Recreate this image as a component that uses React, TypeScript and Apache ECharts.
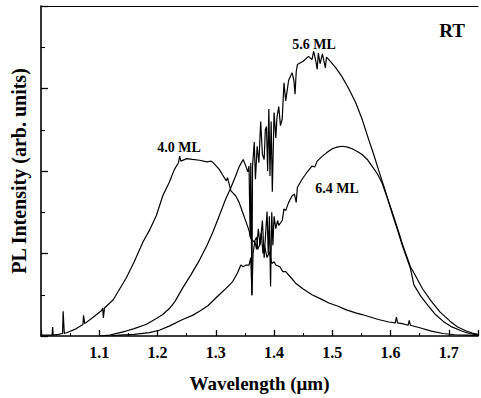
import React, { useEffect, useRef } from "react";
import * as echarts from "echarts";

// Wavelength (µm), PL intensity (arb. units)
const ml40: [number, number][] = [
  [1.0, 0.01], [1.015, 0.01], [1.019, 0.01], [1.02, 0.11], [1.021, 0.01], [1.03, 0.02],
  [1.037, 0.03], [1.038, 0.3], [1.04, 0.03], [1.044, 0.04], [1.058, 0.08], [1.072, 0.14],
  [1.073, 0.25], [1.075, 0.15], [1.09, 0.23], [1.104, 0.31], [1.106, 0.34], [1.107, 0.22],
  [1.109, 0.34], [1.124, 0.44], [1.146, 0.7], [1.16, 0.9], [1.175, 1.14], [1.186, 1.28],
  [1.198, 1.46], [1.209, 1.7], [1.22, 1.86], [1.229, 2.02], [1.236, 2.1], [1.238, 2.18],
  [1.24, 2.12], [1.25, 2.15], [1.26, 2.14], [1.272, 2.13], [1.285, 2.11], [1.292, 2.12],
  [1.297, 2.09], [1.306, 2.02], [1.311, 1.96], [1.318, 1.88], [1.32, 1.92], [1.326, 1.76],
  [1.334, 1.7], [1.34, 1.62], [1.346, 1.5], [1.352, 1.38], [1.357, 1.28], [1.36, 1.18],
  [1.366, 1.14], [1.37, 1.2], [1.372, 1.05], [1.375, 1.1], [1.378, 1.25], [1.381, 1.0],
  [1.384, 1.08], [1.388, 0.95], [1.392, 1.02], [1.396, 0.88], [1.4, 0.9], [1.403, 0.86],
  [1.41, 0.84], [1.415, 0.78], [1.42, 0.78], [1.43, 0.7], [1.437, 0.64], [1.45, 0.57],
  [1.465, 0.5], [1.48, 0.45], [1.494, 0.4], [1.51, 0.36], [1.523, 0.32], [1.54, 0.28],
  [1.551, 0.26], [1.565, 0.23], [1.579, 0.2], [1.597, 0.17], [1.608, 0.16], [1.61, 0.23],
  [1.612, 0.16], [1.62, 0.15], [1.63, 0.13], [1.632, 0.19], [1.634, 0.13], [1.65, 0.1],
  [1.67, 0.06], [1.69, 0.03], [1.71, 0.015], [1.73, 0.01], [1.75, 0.005],
];

const ml56: [number, number][] = [
  [1.1, 0.0], [1.118, 0.01], [1.146, 0.06], [1.16, 0.09], [1.18, 0.14], [1.19, 0.18],
  [1.2, 0.22], [1.209, 0.26], [1.215, 0.3], [1.22, 0.33], [1.23, 0.42], [1.243, 0.58],
  [1.258, 0.75], [1.272, 0.92], [1.285, 1.1], [1.295, 1.26], [1.305, 1.44], [1.317, 1.66],
  [1.326, 1.8], [1.334, 1.94], [1.34, 2.05], [1.347, 2.14], [1.352, 2.05], [1.355, 1.99],
  [1.357, 2.06], [1.359, 1.2], [1.36, 2.1], [1.362, 0.49], [1.363, 2.05], [1.366, 2.35],
  [1.368, 1.9], [1.371, 2.3], [1.374, 2.1], [1.377, 2.6], [1.38, 2.2], [1.383, 2.14],
  [1.385, 2.5], [1.387, 2.54], [1.389, 2.0], [1.391, 2.75], [1.393, 1.94], [1.395, 2.6],
  [1.397, 1.75], [1.4, 2.71], [1.403, 2.4], [1.405, 2.65], [1.408, 2.78], [1.411, 2.55],
  [1.414, 2.63], [1.417, 3.07], [1.42, 2.85], [1.425, 3.1], [1.431, 3.19], [1.434, 3.1],
  [1.436, 2.93], [1.438, 3.2], [1.44, 3.29], [1.45, 3.33], [1.459, 3.39], [1.465, 3.35],
  [1.468, 3.45], [1.472, 3.32], [1.474, 3.23], [1.476, 3.43], [1.479, 3.3], [1.483, 3.42],
  [1.488, 3.25], [1.49, 3.38], [1.494, 3.35], [1.505, 3.26], [1.516, 3.15], [1.528, 3.0],
  [1.54, 2.83], [1.551, 2.63], [1.562, 2.39], [1.571, 2.2], [1.579, 2.02], [1.59, 1.78],
  [1.602, 1.5], [1.613, 1.26], [1.62, 1.1], [1.634, 0.82], [1.64, 0.62], [1.652, 0.48],
  [1.664, 0.37], [1.677, 0.26], [1.69, 0.18], [1.705, 0.11], [1.722, 0.06], [1.735, 0.03],
  [1.75, 0.01],
];

const ml64: [number, number][] = [
  [1.12, 0.0], [1.135, 0.01], [1.16, 0.02], [1.186, 0.04], [1.203, 0.07], [1.22, 0.12],
  [1.243, 0.2], [1.26, 0.25], [1.272, 0.3], [1.287, 0.37], [1.3, 0.46], [1.315, 0.56],
  [1.329, 0.66], [1.337, 0.76], [1.343, 0.86], [1.347, 0.84], [1.352, 0.86], [1.357, 0.86],
  [1.36, 0.95], [1.362, 0.5], [1.364, 1.0], [1.367, 1.15], [1.37, 1.05], [1.373, 1.3],
  [1.376, 1.1], [1.38, 1.4], [1.383, 0.95], [1.386, 1.3], [1.388, 1.51], [1.39, 1.0],
  [1.392, 1.45], [1.394, 0.6], [1.396, 1.5], [1.398, 1.1], [1.4, 1.45], [1.403, 1.3],
  [1.406, 1.4], [1.408, 1.34], [1.414, 1.4], [1.417, 1.54], [1.42, 1.52], [1.425, 1.62],
  [1.431, 1.7], [1.435, 1.72], [1.438, 1.62], [1.44, 1.8], [1.448, 1.9], [1.455, 1.97],
  [1.465, 2.06], [1.47, 2.05], [1.474, 2.12], [1.483, 2.18], [1.49, 2.22], [1.5, 2.27],
  [1.508, 2.29], [1.517, 2.3], [1.526, 2.29], [1.534, 2.27], [1.542, 2.24], [1.551, 2.2],
  [1.56, 2.14], [1.568, 2.06], [1.577, 1.97], [1.585, 1.86], [1.597, 1.62], [1.602, 1.52],
  [1.613, 1.28], [1.62, 1.12], [1.634, 0.84], [1.642, 0.74], [1.655, 0.57], [1.67, 0.42],
  [1.685, 0.29], [1.702, 0.18], [1.715, 0.11], [1.73, 0.06], [1.74, 0.035], [1.75, 0.02],
];

const seriesNames = ["4.0 ML", "5.6 ML", "6.4 ML"];
const xTickLabels = ["1.1", "1.2", "1.3", "1.4", "1.5", "1.6", "1.7"];

const FONT = "'Liberation Serif', 'Times New Roman', serif";

export default function App() {
  const ref = useRef<HTMLDivElement>(null);
  useEffect(() => {
    if (!ref.current) return;
    const chart = echarts.init(ref.current, undefined, { renderer: "svg" });
    const lineSeries = [ml40, ml56, ml64].map((d, i) => ({
      name: seriesNames[i],
      type: "line",
      data: d,
      showSymbol: false,
      symbol: "none",
      lineStyle: { color: "#000", width: 1.2 },
      clip: true,
      z: 3,
    }));
    const lbl = (text: string, x: number, y: number, size: number) => ({
      type: "text",
      x,
      y,
      style: { text, fill: "#000", font: `bold ${size}px ${FONT}`, textAlign: "center", textVerticalAlign: "middle" },
    });
    chart.setOption({
      animation: false,
      backgroundColor: "#fff",
      grid: { left: 41, right: 1, top: 6, bottom: 60 },
      xAxis: [
        {
          type: "value",
          min: 1.0,
          max: 1.75,
          interval: 0.1,
          position: "bottom",
          axisLine: { show: true, onZero: false, lineStyle: { color: "#000", width: 1.6 } },
          axisTick: { show: true, inside: true, length: 6, lineStyle: { color: "#000", width: 1.3 } },
          minorTick: { show: true, splitNumber: 2, length: 3, lineStyle: { color: "#000", width: 1.1 } },
          splitLine: { show: false },
          axisLabel: {
            color: "#000",
            fontFamily: FONT,
            fontWeight: "bold",
            fontSize: 16,
            margin: 8,
            formatter: (v: number) => {
              const s = v.toFixed(1);
              return xTickLabels.indexOf(s) >= 0 ? s : "";
            },
          },
          name: "Wavelength (\u03bcm)",
          nameLocation: "middle",
          nameGap: 38,
          nameTextStyle: { color: "#000", fontFamily: FONT, fontWeight: "bold", fontSize: 19 },
        },
        {
          type: "value",
          min: 1.0,
          max: 1.75,
          position: "top",
          axisLine: { show: true, onZero: false, lineStyle: { color: "#000", width: 1.2 } },
          axisTick: { show: false },
          axisLabel: { show: false },
          splitLine: { show: false },
        },
      ],
      yAxis: {
        type: "value",
        min: 0,
        max: 4,
        interval: 1,
        axisLine: { show: true, onZero: false, lineStyle: { color: "#000", width: 1.6 } },
        axisTick: { show: true, inside: true, length: 7, lineStyle: { color: "#000", width: 1.3 } },
        minorTick: { show: true, splitNumber: 2, length: 4, lineStyle: { color: "#000", width: 1.1 } },
        splitLine: { show: false },
        axisLabel: { show: false },
        name: "PL Intensity (arb. units)",
        nameLocation: "middle",
        nameRotate: 90,
        nameGap: 12,
        nameTextStyle: { color: "#000", fontFamily: FONT, fontWeight: "bold", fontSize: 20 },
      },
      graphic: [
        lbl("RT", 452, 30, 19),
        lbl(seriesNames[1], 314, 44, 14),
        lbl(seriesNames[0], 179, 147, 14),
        lbl(seriesNames[2], 337, 188, 14),
      ],
      series: lineSeries,
    });
    return () => chart.dispose();
  }, []);
  return (
    <div
      ref={ref}
      style={{ position: "absolute", left: 0, top: 0, width: 481, height: 398, background: "#fff" }}
    />
  );
}
